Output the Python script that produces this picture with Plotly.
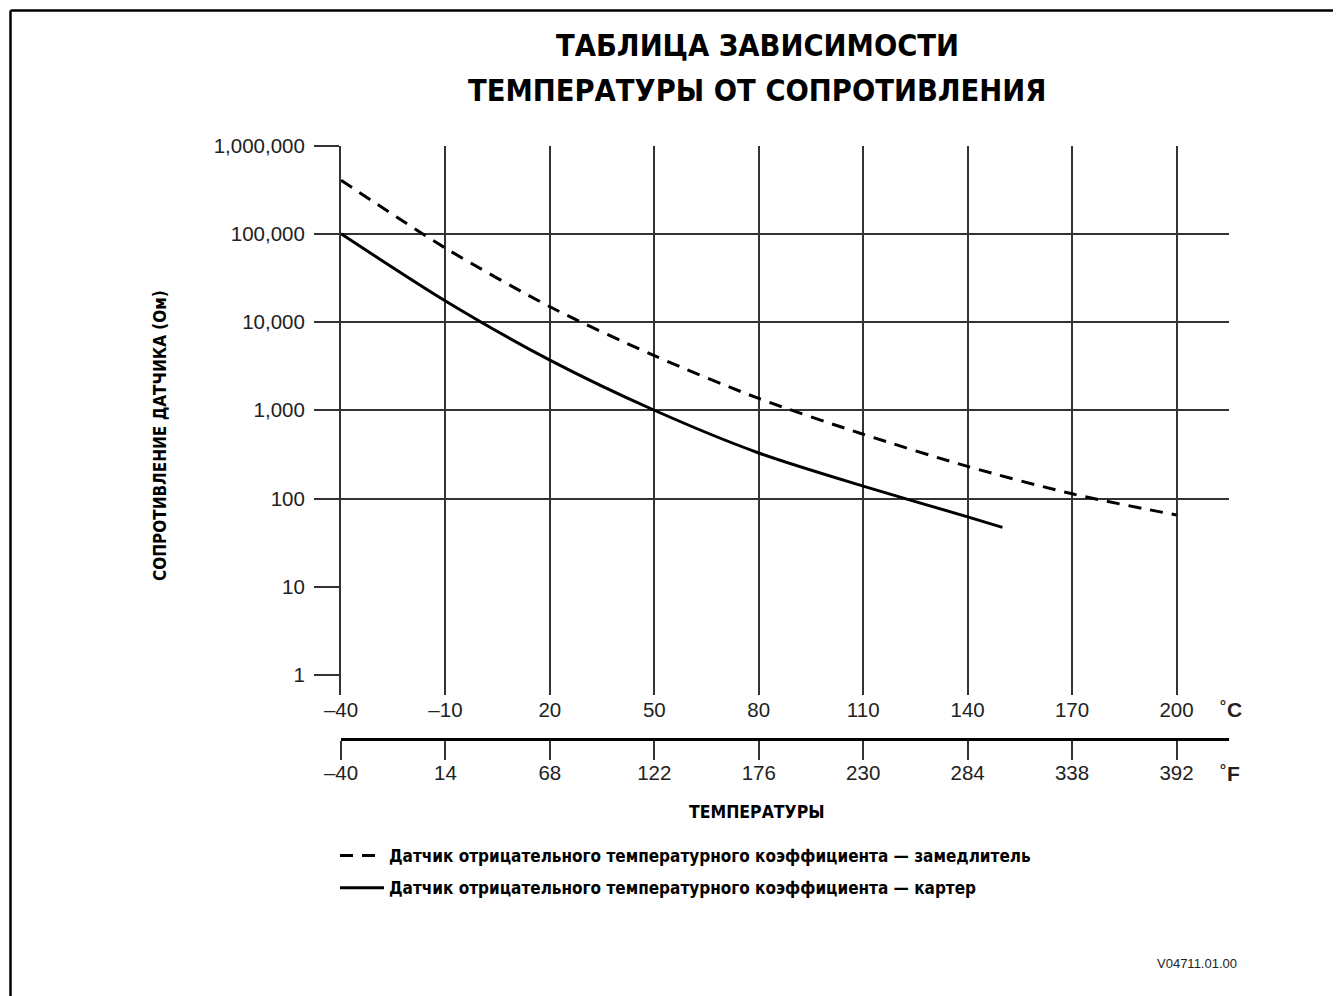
import plotly.graph_objects as go

# ---------------- data ----------------
temp_c_ticks = [-40, -10, 20, 50, 80, 110, 140, 170, 200]
temp_c_labels = ["–40", "–10", "20", "50", "80", "110", "140", "170", "200"]
temp_f_labels = ["–40", "14", "68", "122", "176", "230", "284", "338", "392"]

res_ticks = [1, 10, 100, 1000, 10000, 100000, 1000000]
res_labels = ["1", "10", "100", "1,000", "10,000", "100,000", "1,000,000"]
res_grid = [100, 1000, 10000, 100000]

retarder_temp = [-40, -10, 20, 50, 80, 110, 140, 170, 200]
retarder_res = [404000, 68700, 14900, 4150, 1360, 535, 231, 113, 65]

sump_temp = [-40, -10, 20, 50, 80, 110, 140, 150]
sump_res = [100000, 17300, 3700, 1000, 328, 138, 62, 47]

retarder_name = "Датчик отрицательного температурного коэффициента — замедлитель"
sump_name = "Датчик отрицательного температурного коэффициента — картер"

title_lines = ["ТАБЛИЦА ЗАВИСИМОСТИ", "ТЕМПЕРАТУРЫ ОТ СОПРОТИВЛЕНИЯ"]
y_title = "СОПРОТИВЛЕНИЕ ДАТЧИКА (Ом)"
x_title = "ТЕМПЕРАТУРЫ"
doc_code = "V04711.01.00"

# ---------------- style ----------------
W, H = 1341, 996
OFF = 8  # page body margin offset of the figure div
NARROW = "DejaVu Sans Condensed, Liberation Sans Narrow, Arial Narrow, sans-serif"
REG = "Liberation Sans, Arial, Helvetica, sans-serif"
GRID = "#333333"
TXT = "#222222"


def sx(x):
    return (x - OFF) / W


def sy(y):
    return 1 - (y - OFF) / H


x_left, x_right = 341, 1228.5
y_top, y_bot = 145.5, 695
px_per_c = (1176.5 - 341) / 240.0
x_max = -40 + (x_right - x_left) / px_per_c
px_per_dec = (675 - 145.5) / 6.0
y_min_log = 6 - (y_bot - y_top) / px_per_dec

fig = go.Figure()

fig.add_trace(go.Scatter(
    x=retarder_temp, y=retarder_res, mode="lines", name=retarder_name,
    line=dict(color="black", width=3, dash="13px,9px", shape="spline", smoothing=0.8),
    legendgroup="a", hoverinfo="skip"))
fig.add_trace(go.Scatter(
    x=sump_temp, y=sump_res, mode="lines", name=sump_name,
    line=dict(color="black", width=3, shape="spline", smoothing=0.8),
    legendgroup="b", hoverinfo="skip"))
# invisible trace so the Fahrenheit axis gets drawn
fig.add_trace(go.Scatter(
    x=temp_c_ticks, y=[None] * len(temp_c_ticks), xaxis="x2", yaxis="y",
    mode="lines", showlegend=False, hoverinfo="skip"))

fig.update_layout(
    template="none",
    width=W, height=H,
    margin=dict(l=0, r=0, t=0, b=0, pad=0, autoexpand=False),
    paper_bgcolor="white", plot_bgcolor="white",
    showlegend=True,
    xaxis=dict(
        domain=[sx(x_left), sx(x_right)],
        range=[-40, x_max], automargin=False,
        tickmode="array", tickvals=temp_c_ticks, ticktext=temp_c_labels,
        showgrid=True, gridcolor=GRID, gridwidth=1.6,
        zeroline=False, showline=False, ticks="",
        ticklabelstandoff=0,
        tickfont=dict(family=REG, size=20.5, color=TXT),
        fixedrange=True,
    ),
    xaxis2=dict(
        overlaying="x", anchor="free", side="bottom",
        position=sy(739), automargin=False,
        range=[-40, x_max],
        tickmode="array", tickvals=temp_c_ticks, ticktext=temp_f_labels,
        showgrid=False, zeroline=False,
        showline=True, linecolor="black", linewidth=3,
        ticks="outside", ticklen=19, tickwidth=1.6, tickcolor=GRID,
        ticklabelstandoff=-5,
        tickfont=dict(family=REG, size=20.5, color=TXT),
        fixedrange=True,
    ),
    yaxis=dict(
        domain=[sy(y_bot), sy(y_top)],
        type="log", range=[y_min_log, 6], automargin=False,
        tickmode="array", tickvals=res_ticks, ticktext=res_labels,
        showgrid=False, zeroline=False,
        showline=True, linecolor=GRID, linewidth=2,
        ticks="outside", ticklen=25, tickwidth=1.6, tickcolor=GRID,
        ticklabelstandoff=5,
        tickfont=dict(family=REG, size=20.5, color=TXT),
        minor=dict(tickmode="array", tickvals=res_grid, showgrid=True,
                   gridcolor=GRID, gridwidth=1.6, ticks=""),
        fixedrange=True,
    ),
    legend=dict(
        x=sx(341 - 6), y=sy(838), xanchor="left", yanchor="top",
        font=dict(family=NARROW, size=17, color="black", weight="bold"),
        bgcolor="rgba(0,0,0,0)", borderwidth=0,
        tracegroupgap=7, itemwidth=44,
    ),
)

annotations = [
    dict(text="<b>" + title_lines[0] + "</b>", x=sx(757), y=sy(45),
         font=dict(family=NARROW, size=30.5, color="black")),
    dict(text="<b>" + title_lines[1] + "</b>", x=sx(757), y=sy(90),
         font=dict(family=NARROW, size=30.5, color="black")),
    dict(text="<b>" + y_title + "</b>", x=sx(160), y=sy(436), textangle=-90,
         font=dict(family=NARROW, size=17, color="black")),
    dict(text="<b>" + x_title + "</b>", x=sx(757), y=sy(812),
         font=dict(family=NARROW, size=17.5, color="black")),
    dict(text="˚<b>C</b>", x=sx(1218), y=sy(709), xanchor="left",
         font=dict(family=REG, size=21, color=TXT)),
    dict(text="˚<b>F</b>", x=sx(1218), y=sy(773), xanchor="left",
         font=dict(family=REG, size=21, color=TXT)),
    dict(text=doc_code, x=sx(1197), y=sy(963),
         font=dict(family=REG, size=13, color=TXT)),
]
for a in annotations:
    a.update(xref="paper", yref="paper", showarrow=False,
             yanchor=a.get("yanchor", "middle"), xanchor=a.get("xanchor", "center"))
fig.update_layout(annotations=annotations)

# page frame (left and top edges)
fig.add_shape(type="line", xref="paper", yref="paper",
              x0=sx(10.5), x1=sx(10.5), y0=0, y1=sy(10.5),
              line=dict(color="black", width=2.5))
fig.add_shape(type="line", xref="paper", yref="paper",
              x0=sx(10.5), x1=1, y0=sy(10.5), y1=sy(10.5),
              line=dict(color="black", width=2.5))

fig.write_html("out.html")
